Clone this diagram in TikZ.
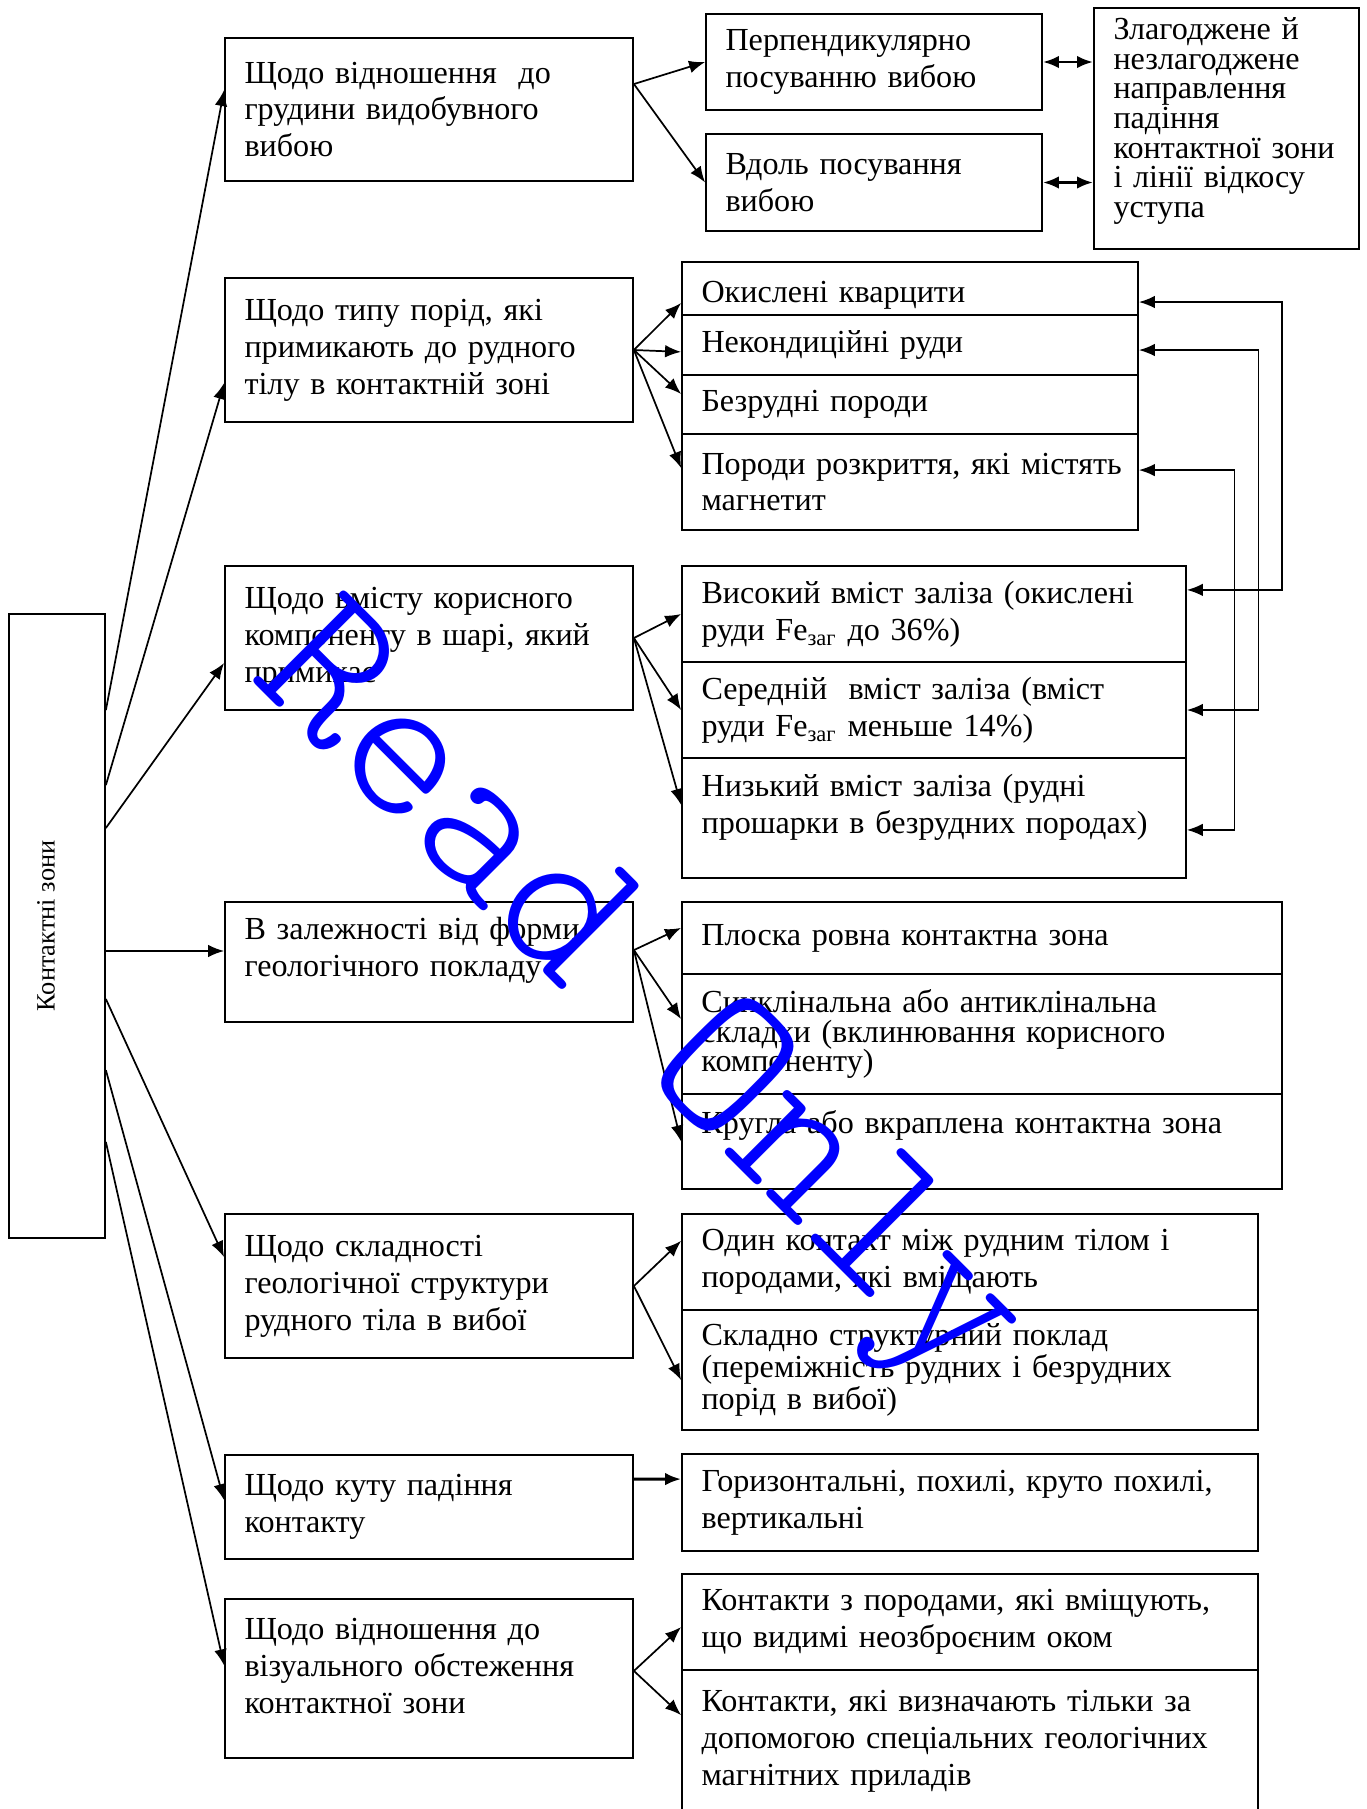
\documentclass[tikz,border=0pt]{standalone}
\usepackage{fontspec}
\setmainfont{Liberation Serif}
\newfontfamily\wmfont{lmmonolt10-regular.otf}
\usetikzlibrary{arrows.meta}

\begin{document}
\begin{tikzpicture}
  [x=0.4358pt, y=-0.4358pt,
    box/.style={draw, line width=0.8pt, align=left, inner xsep=8.5pt, inner ysep=0pt,
      font=\fontsize{14}{16.1}\selectfont},
    tight/.style={font=\fontsize{14}{12.9}\selectfont},
    crit/.style={box, text width=160.8pt},
    kindA/.style={box, text width=181.7pt},
    kindB/.style={box, text width=202.6pt},
    kindC/.style={box, text width=244.5pt},
    kindD/.style={box, text width=234pt},
    link/.style={-{Latex[length=7pt,width=5.5pt]}, line width=0.75pt},
    twoway/.style={{Latex[length=7pt,width=5.5pt]}-{Latex[length=7pt,width=5.5pt]}, line width=0.75pt},
    watermark/.style={text=blue, font=\wmfont\fontsize{92.7}{92.7}\selectfont, rotate=-45, anchor=base, inner sep=0pt},
  ]
  \useasboundingbox (0,0) rectangle (1366,1809);

  \node[box, minimum width=41.8pt, minimum height=271.9pt, inner xsep=0pt,
    font=\fontsize{11.5}{13}\selectfont] (lb) at (57,926) {\rotatebox{90}{Контактні зони}\hspace{9.6pt}};

  \node[crit, minimum height=62.3pt] (b1) at (429,109.5) {Щодо відношення\ \ до\\ грудини видобувного\\ вибою};
  \node[crit, minimum height=62.8pt] (b2) at (429,350) {Щодо типу порід, які\\ примикають до рудного\\ тілу в контактній зоні};
  \node[crit, minimum height=62.8pt] (b3) at (429,638) {Щодо вмісту корисного\\ компоненту в шарі, який\\ примикає};
  \node[crit, minimum height=52.3pt] (b4) at (429,962) {В залежності від форми\\ геологічного покладу\\[-3.1pt]\mbox{}};
  \node[crit, minimum height=62.8pt] (b5) at (429,1286) {Щодо складності\\ геологічної структури\\ рудного тіла в вибої};
  \node[crit, minimum height=45.3pt] (b6) at (429,1507) {Щодо куту падіння\\ контакту};
  \node[crit, minimum height=69.3pt] (b7) at (429,1678.5) {Щодо відношення до\\ візуального обстеження\\ контактної зони\\[-5.3pt]\mbox{}};

  \node[box, text width=129.4pt, minimum height=41.8pt] (p1) at (874,62) {Перпендикулярно\\ посуванню вибою};
  \node[box, text width=129.4pt, minimum height=42.3pt] (v1) at (874,182.5) {Вдоль посування\\ вибою};
  \node[box, tight, text width=98.5pt, minimum height=105pt] (z1) at (1226.5,128.5)
    {Злагоджене й\\ незлагоджене\\ направлення\\ падіння\\ контактної зони\\ і лінії відкосу\\ уступа\\[-3.3pt]\mbox{}};

  \node[kindA, minimum height=23.1pt, text height=15.5pt] (s11) at (910,288.5) {Окислені кварцити};
  \node[kindA, minimum height=26.1pt] (s12) at (910,345) {Некондиційні руди};
  \node[kindA, minimum height=25.7pt] (s13) at (910,404.5) {Безрудні породи};
  \node[kindA, minimum height=41.8pt] (s14) at (910,482) {\mbox{Породи розкриття, які містять}\\ магнетит};

  \node[kindB, minimum height=41.8pt] (s21) at (934,614) {Високий вміст заліза (окислені\\ руди Fe\textsubscript{заг} до 36\%)};
  \node[kindB, minimum height=41.8pt] (s22) at (934,710) {Середній\ \ вміст заліза (вміст\\ руди Fe\textsubscript{заг} меньше 14\%)};
  \node[kindB, minimum height=52.3pt] (s23) at (934,818) {Низький вміст заліза (рудні\\ прошарки в безрудних породах)\\[-4.1pt]\mbox{}};

  \node[kindC, minimum height=31.4pt] (s31) at (982,938) {Плоска ровна контактна зона};
  \node[kindC, tight, minimum height=52.3pt] (s32) at (982,1034) {Синклінальна або антиклінальна\\ складки (вклинювання корисного\\ компоненту)};
  \node[kindC, minimum height=41.4pt] (s33) at (982,1141.5) {Кругла або вкраплена контактна зона\\[1.3pt]\mbox{}};

  \node[kindD, minimum height=41.8pt] (s41) at (970,1262) {Один контакт між рудним тілом і\\ породами, які вміщають};
  \node[kindD, tight, minimum height=52.3pt] (s42) at (970,1370) {Складно структурний поклад\\ (переміжність рудних і безрудних\\ порід в вибої)};

  \node[kindD, minimum height=42.3pt] (c61) at (970,1502.5) {Горизонтальні, похилі, круто похилі,\\ вертикальні};

  \node[kindD, minimum height=41.8pt] (s51) at (970,1622) {Контакти з породами, які вміщують,\\ що видимі неозброєним оком};
  \node[kindD, minimum height=61.9pt] (s52) at (970,1741) {Контакти, які визначають тільки за\\ допомогою спеціальних геологічних\\ магнітних приладів};

  \draw[link] ([yshift=94.1pt]lb.east) -- ([yshift=8.5pt]b1.west);
  \draw[link] ([yshift=61.4pt]lb.east) -- ([yshift=-14.4pt]b2.west);
  \draw[link] ([yshift=42.7pt]lb.east) -- ([yshift=-10.9pt]b3.west);
  \draw[link] ([yshift=-10.9pt]lb.east) -- ([yshift=4.8pt]b4.west);
  \draw[link] ([yshift=-31.8pt]lb.east) -- ([yshift=12.6pt]b5.west);
  \draw[link] ([yshift=-62.8pt]lb.east) -- ([yshift=3pt]b6.west);
  \draw[link] ([yshift=-94.1pt]lb.east) -- ([yshift=5.7pt]b7.west);

  \draw[link] ([yshift=11.1pt]b1.east) -- (p1.west);
  \draw[link] ([yshift=11.1pt]b1.east) -- (v1.west);
  \draw[twoway, line width=1.3pt] (p1.east) -- (p1.east -| z1.west);
  \draw[twoway, line width=1.3pt] (v1.east) -- (v1.east -| z1.west);

  \draw[link] (b2.east) -- ([yshift=-6.3pt]s11.west);
  \draw[link] (b2.east) -- ([yshift=-3pt]s12.west);
  \draw[link] (b2.east) -- ([yshift=4.6pt]s13.west);
  \draw[link] (b2.east) -- ([yshift=6.1pt]s14.west);

  \draw[link] (b3.east) -- (s21.west);
  \draw[link] (b3.east) -- (s22.west);
  \draw[link] (b3.east) -- ([yshift=5.7pt]s23.west);

  \draw[twoway] ([yshift=10.5pt]s21.east) -- ++(95,0) |- ([yshift=-5.9pt]s11.east);
  \draw[twoway] (s22.east) -- ++(71.5,0) |- ([yshift=-2.2pt]s12.east);
  \draw[twoway] ([yshift=-5.2pt]s23.east) -- ++(47.5,0) |- ([yshift=5.2pt]s14.east);

  \draw[link] ([yshift=5.2pt]b4.east) -- ([yshift=4.4pt]s31.west);
  \draw[link] ([yshift=5.2pt]b4.east) -- ([yshift=6.5pt]s32.west);
  \draw[link] ([yshift=5.2pt]b4.east) -- (s33.west);

  \draw[link] (b5.east) -- ([yshift=9.2pt]s41.west);
  \draw[link] (b5.east) -- ([yshift=-4.4pt]s42.west);

  \draw[link, line width=1.3pt] ([yshift=12.2pt]b6.east) -- ([yshift=10.2pt]c61.west);

  \draw[link] ([yshift=3.3pt]b7.east) -- ([yshift=-2.2pt]s51.west);
  \draw[link] ([yshift=3.3pt]b7.east) -- ([yshift=11.3pt]s52.west);

  \node[watermark] (ro) at (603.5,1032.5) {Read Only};
\end{tikzpicture}
\end{document}
